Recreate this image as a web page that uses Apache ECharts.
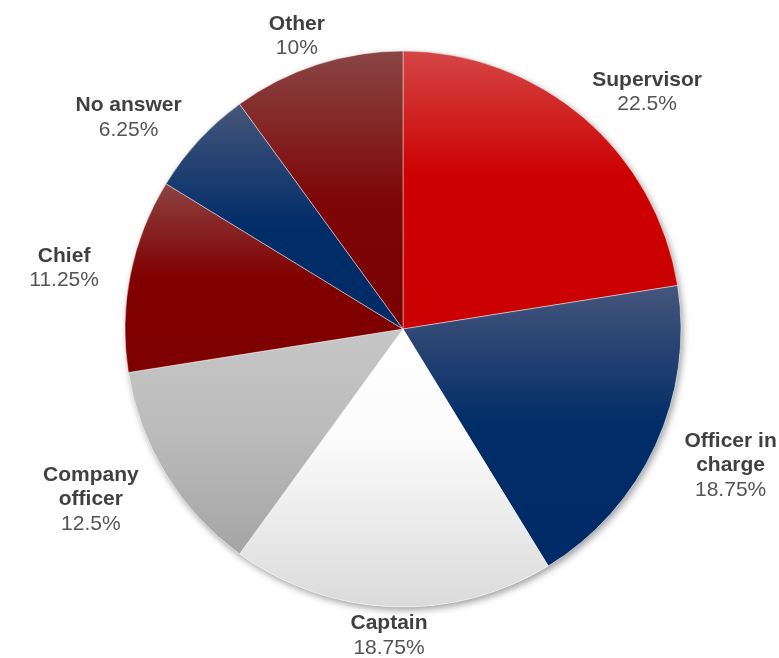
<!DOCTYPE html>
<html>
<head>
<meta charset="utf-8">
<style>
  html, body { margin: 0; padding: 0; background: #ffffff; }
  #chart { width: 779px; height: 658px; }
</style>
<script src="https://cdn.jsdelivr.net/npm/echarts@6/dist/echarts.min.js"></script>
</head>
<body>
<div id="chart"></div>
<script>
// Survey answers: share of respondents by role (percent)
const categories = ['Supervisor', 'Officer in charge', 'Captain', 'Company officer', 'Chief', 'No answer', 'Other'];
const values = [22.5, 18.75, 18.75, 12.5, 11.25, 6.25, 10];

// Vertical gradient stops for each slice (top colour, bottom colour)
const sliceColors = [
  [['#d54646', 0], ['#cc0000', 0.45], ['#cb0000', 1]],
  [['#46567b', 0], ['#002c68', 0.5], ['#002b66', 1]],
  [['#ffffff', 0], ['#fbfbfb', 0.4], ['#dadada', 1]],
  [['#c6c6c6', 0], ['#bdbdbd', 0.4], ['#a5a5a5', 1]],
  [['#8d4242', 0], ['#800000', 0.5], ['#7f0000', 1]],
  [['#46567b', 0], ['#002c68', 0.55], ['#002b66', 1]],
  [['#8a4545', 0], ['#7d0505', 0.55], ['#780000', 1]]
];

const CX = 403, CY = 329, R = 278;
const GAP_X = 32, GAP_Y = 6, PUSH = 1.2;
const total = values.reduce((a, b) => a + b, 0);

function wrapName(name, maxChars) {
  const words = name.split(' ');
  const lines = [];
  let cur = '';
  words.forEach(w => {
    if (!cur) cur = w;
    else if ((cur + ' ' + w).length <= maxChars) cur += ' ' + w;
    else { lines.push(cur); cur = w; }
  });
  if (cur) lines.push(cur);
  return lines.join('\n');
}

function gradient(stops) {
  return new echarts.graphic.LinearGradient(0, 0, 0, 1,
    stops.map(s => ({ offset: s[1], color: s[0] })));
}

const clamp = v => Math.max(-1, Math.min(1, v));
const FONT = '"Liberation Sans", Arial, sans-serif';

const chart = echarts.init(document.getElementById('chart'), null, { renderer: 'canvas' });

chart.setOption({
  animation: false,
  backgroundColor: '#ffffff',
  textStyle: { fontFamily: FONT },
  series: [
    {
      // soft drop shadow under the whole disc
      type: 'pie',
      silent: true,
      center: [CX, CY],
      radius: R,
      z: 1,
      label: { show: false },
      labelLine: { show: false },
      itemStyle: {
        color: '#ffffff',
        shadowBlur: 7,
        shadowColor: 'rgba(0,0,0,0.38)',
        shadowOffsetX: 2,
        shadowOffsetY: 3
      },
      data: [{ value: 1, name: '' }]
    },
    {
      type: 'pie',
      center: [CX, CY],
      radius: R,
      startAngle: 90,
      clockwise: true,
      avoidLabelOverlap: false,
      z: 2,
      emphasis: { disabled: true },
      itemStyle: { borderColor: 'rgba(255,255,255,0.55)', borderWidth: 0.8 },
      labelLine: { show: false },
      label: {
        show: true,
        position: 'outside',
        align: 'center',
        overflow: 'none',
        edgeDistance: 0,
        bleedMargin: 0,
        formatter: p => '{n|' + wrapName(p.name, 10) + '}\n{v|' + p.value + '%}',
        rich: {
          n: { fontSize: 21, fontWeight: 'bold', color: '#404040', lineHeight: 24.5, align: 'center', fontFamily: FONT },
          v: { fontSize: 21, color: '#545454', lineHeight: 24.5, align: 'center', fontFamily: FONT }
        }
      },
      labelLayout: function (p) {
        let before = 0;
        for (let j = 0; j < p.dataIndex; j++) before += values[j];
        const mid = (before + values[p.dataIndex] / 2) / total * Math.PI * 2;
        const dx = Math.sin(mid), dy = -Math.cos(mid);
        const w = p.labelRect.width, h = p.labelRect.height;
        return {
          x: CX + dx * (R + GAP_X) + clamp(PUSH * dx) * w / 2,
          y: CY + dy * (R + GAP_Y) + clamp(PUSH * dy) * h / 2,
          align: 'center',
          verticalAlign: 'middle'
        };
      },
      data: categories.map((name, i) => ({
        name: name,
        value: values[i],
        itemStyle: { color: gradient(sliceColors[i]) }
      }))
    }
  ]
});
</script>
</body>
</html>
